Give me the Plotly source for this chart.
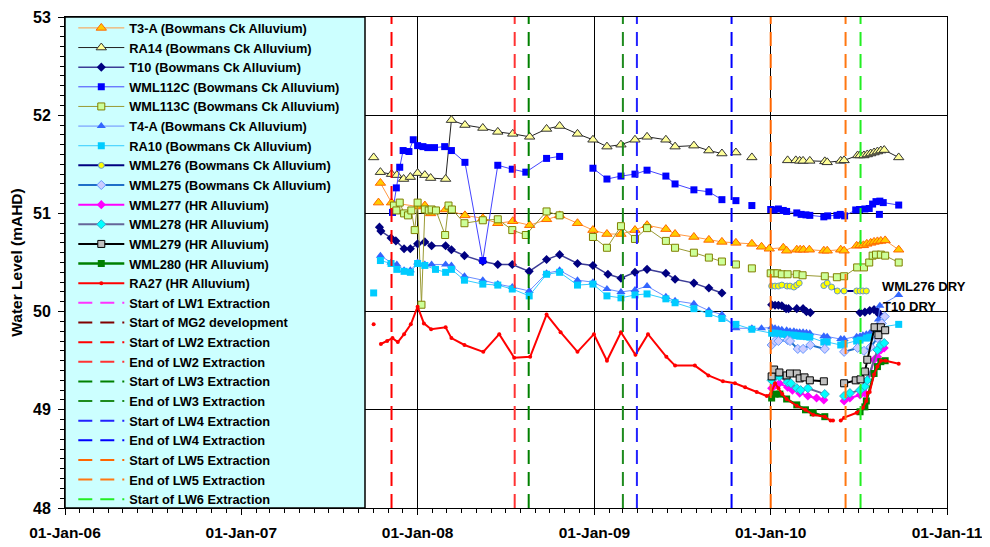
import plotly.graph_objects as go

# ------------------------------------------------------------------ data
t3a_dates = ["2007-10-12", None, "2007-10-16", "2007-11-08", "2008-01-01", "2008-01-16", "2008-01-28", "2008-02-28",
             "2008-04-08", "2008-05-15", "2008-06-15", "2008-07-16", "2008-08-20", "2008-09-24", "2008-10-21",
             "2008-11-27", "2008-12-29", "2009-01-27", "2009-02-25", "2009-03-26", "2009-04-20", "2009-05-29",
             "2009-06-17", "2009-07-26", "2009-08-26", "2009-09-22", "2009-10-21", "2009-11-23", "2009-12-13",
             "2009-12-29", "2010-01-27", "2010-02-03", "2010-02-24", "2010-03-03", "2010-03-10", "2010-03-22",
             "2010-04-21", "2010-04-28", "2010-05-26", "2010-06-02", "2010-06-28", "2010-07-05", "2010-07-12",
             "2010-07-19", "2010-07-27", "2010-08-03", "2010-08-10", "2010-08-17", "2010-08-26", "2010-09-23"]
t3a_vals = [51.11, None, 51.31, 51.11, 51.07, 51.08, 51.00, 51.04, 50.98, 50.95, 50.90, 50.92, 50.88, 50.94, 50.98,
            50.90, 50.83, 50.79, 50.79, 50.83, 50.88, 50.84, 50.79, 50.76, 50.73, 50.71, 50.70, 50.69, 50.66, 50.64,
            50.65, 50.62, 50.63, 50.63, 50.63, 50.63, 50.62, 50.62, 50.63, 50.62, 50.67, 50.675, 50.675, 50.69,
            50.70, 50.71, 50.715, 50.72, 50.725, 50.63]

ra14_dates = ["2007-10-02", None, "2007-10-16", "2007-11-08", "2007-11-19", "2007-12-03", "2007-12-17", "2008-01-01",
              "2008-01-16", "2008-01-28", "2008-02-28", "2008-03-11", "2008-04-08", "2008-05-15", "2008-06-15",
              "2008-07-16", "2008-08-20", "2008-09-24", "2008-10-21", "2008-11-27", "2008-12-29", "2009-01-27",
              "2009-02-25", "2009-03-26", "2009-04-20", "2009-05-29", "2009-06-17", "2009-07-26", "2009-08-26",
              "2009-09-22", None, "2009-10-21", None, "2009-11-23", None, "2010-02-05", "2010-02-22", "2010-03-02",
              "2010-03-09", "2010-03-23", "2010-04-23", "2010-04-28", "2010-05-26", "2010-06-02", "2010-06-30",
              "2010-07-05", "2010-07-13", "2010-07-20", "2010-07-27", "2010-08-03", "2010-08-10", "2010-08-17",
              "2010-08-24", "2010-09-23"]
ra14_vals = [51.57, None, 51.42, 51.40, 51.39, 51.35, 51.37, 51.41, 51.39, 51.36, 51.35, 51.95, 51.90, 51.87, 51.83,
             51.81, 51.78, 51.86, 51.89, 51.81, 51.75, 51.68, 51.70, 51.75, 51.78, 51.75, 51.68, 51.69, 51.64, 51.61,
             None, 51.62, None, 51.57, None, 51.54, 51.54, 51.535, 51.535, 51.535, 51.53, 51.52, 51.535, 51.54,
             51.59, 51.59, 51.59, 51.60, 51.61, 51.62, 51.63, 51.64, 51.645, 51.57]

t10_dates = ["2007-10-14", "2007-10-17", "2007-11-07", "2007-11-17", "2007-12-04", "2007-12-17", "2008-01-01",
             "2008-01-16", "2008-01-30", "2008-02-28", "2008-03-11", "2008-04-07", "2008-05-15", "2008-06-15",
             "2008-07-15", "2008-08-19", "2008-09-24", "2008-10-21", "2008-11-27", "2008-12-29", "2009-01-29",
             "2009-02-25", "2009-03-26", "2009-04-20", "2009-05-29", "2009-06-17", "2009-07-26", "2009-08-26",
             "2009-09-22", None, "2010-01-03", "2010-01-10", "2010-01-17", "2010-01-24", "2010-02-02", "2010-02-07",
             "2010-02-24", "2010-03-09", "2010-03-16", "2010-03-24", None, "2010-07-05", "2010-07-15", "2010-07-25",
             "2010-08-03", "2010-08-10", "2010-08-14"]
t10_vals = [50.86, 50.82, 50.75, 50.72, 50.64, 50.64, 50.69, 50.71, 50.67, 50.67, 50.63, 50.57, 50.51, 50.48, 50.48,
            50.41, 50.53, 50.58, 50.49, 50.47, 50.38, 50.34, 50.40, 50.43, 50.39, 50.33, 50.29, 50.24, 50.19, None,
            50.07, 50.065, 50.065, 50.06, 50.03, 50.03, 50.03, 50.03, 50.00, 49.99, None, 49.99, 49.995, 50.01,
            50.02, 50.00, 49.97]

wml112c_dates = ["2007-11-10", "2007-11-18", "2007-11-25", "2007-12-02", "2007-12-14", "2007-12-23", "2008-01-01",
                 "2008-01-12", "2008-01-22", "2008-02-05", "2008-02-26", "2008-03-11", "2008-04-08", "2008-05-15",
                 "2008-06-15", "2008-07-15", "2008-08-12", "2008-09-24", "2008-10-21", None, "2008-12-29",
                 "2009-01-27", "2009-02-25", "2009-03-26", "2009-04-20", "2009-05-29", "2009-06-17", "2009-07-26",
                 "2009-08-26", "2009-09-22", None, "2009-10-21", None, "2009-11-23", None, "2010-01-01", "2010-01-08",
                 "2010-01-17", "2010-01-27", "2010-02-03", "2010-02-24", "2010-03-05", "2010-03-15", "2010-03-23",
                 "2010-04-21", "2010-04-29", "2010-05-18", "2010-05-25", "2010-06-03", "2010-06-26", "2010-07-04",
                 "2010-07-15", "2010-07-24", "2010-07-31", "2010-08-07", "2010-08-15", "2010-08-22", "2010-09-23",
                 None, "2010-08-14"]
wml112c_vals = [51.01, 51.26, 51.47, 51.64, 51.63, 51.75, 51.69, 51.68, 51.67, 51.67, 51.68, 51.64, 51.52, 50.52,
                51.49, 51.45, 51.42, 51.56, 51.58, None, 51.46, 51.35, 51.38, 51.40, 51.44, 51.38, 51.30, 51.24,
                51.22, 51.14, None, 51.13, None, 51.08, None, 51.04, 51.035, 51.045, 51.03, 51.02, 51.005, 50.99,
                50.985, 50.98, 50.965, 50.975, 50.98, 50.99, 50.975, 51.035, 51.04, 51.045, 51.05, 51.095, 51.12,
                51.125, 51.11, 51.085, None, 50.99]

wml113c_dates = ["2007-11-13", "2007-11-18", "2007-11-25", "2007-12-04", "2007-12-12", "2007-12-19", "2007-12-26",
                 "2008-01-01", "2008-01-09", "2008-01-16", "2008-01-24", "2008-01-30", "2008-02-08", "2008-02-27",
                 "2008-03-05", "2008-03-12", "2008-04-07", "2008-05-15", "2008-06-15", "2008-07-15", "2008-08-12",
                 "2008-09-24", "2008-10-21", None, "2008-12-29", "2009-01-27", "2009-02-25", "2009-03-26",
                 "2009-04-20", "2009-05-29", "2009-06-17", "2009-07-26", "2009-08-26", "2009-09-22", None,
                 "2009-10-21", None, "2009-11-23", None, "2010-01-01", "2010-01-08", "2010-01-15", "2010-01-24",
                 "2010-02-05", "2010-02-24", "2010-03-08", "2010-04-23", "2010-05-18", "2010-06-02", "2010-06-29",
                 "2010-07-13", "2010-07-24", "2010-07-31", "2010-08-07", "2010-08-17", "2010-08-26", "2010-09-23"]
wml113c_vals = [51.08, 51.03, 51.11, 51.00, 50.98, 51.03, 50.83, 51.11, 50.07, 51.04, 51.03, 51.04, 51.03, 50.78,
                51.08, 51.04, 50.90, 50.93, 50.94, 50.83, 50.78, 51.02, 50.98, None, 50.76, 50.65, 50.87, 50.74,
                50.85, 50.72, 50.65, 50.60, 50.55, 50.51, None, 50.48, None, 50.44, None, 50.39, 50.39, 50.39,
                50.38, 50.38, 50.38, 50.37, 50.36, 50.35, 50.36, 50.45, 50.45, 50.50, 50.57, 50.58, 50.58, 50.57,
                50.50]

t4a_dates = ["2007-10-16", "2007-11-07", "2007-11-19", "2007-12-04", "2007-12-17", "2008-01-01", "2008-01-16",
             "2008-01-30", "2008-02-28", "2008-03-11", "2008-04-07", "2008-05-15", "2008-06-15", "2008-07-15",
             "2008-08-19", "2008-09-24", "2008-10-21", "2008-11-27", "2008-12-29", "2009-01-27", "2009-02-25",
             "2009-03-26", "2009-04-20", "2009-05-29", "2009-06-17", "2009-07-26", "2009-08-26", "2009-09-22",
             "2009-10-21", "2009-11-23", "2009-12-13", "2010-01-03", "2010-01-10", "2010-01-17", "2010-01-24",
             "2010-02-03", "2010-02-10", "2010-02-18", "2010-02-24", "2010-03-02", "2010-03-09", "2010-03-16",
             "2010-03-23", "2010-04-21", "2010-04-28", "2010-05-26", "2010-06-02", "2010-06-28", "2010-07-05",
             "2010-07-11", "2010-07-18", "2010-07-25", "2010-08-01", "2010-08-08", "2010-08-12", "2010-08-15",
             "2010-09-23"]
t4a_vals = [50.57, 50.50, 50.48, 50.42, 50.42, 50.50, 50.48, 50.48, 50.48, 50.47, 50.36, 50.32, 50.28, 50.25, 50.21,
            50.39, 50.42, 50.32, 50.30, 50.23, 50.20, 50.22, 50.26, 50.15, 50.11, 50.08, 50.01, 49.97, 49.83, 49.83,
            49.83, 49.84, 49.83, 49.82, 49.815, 49.81, 49.80, 49.80, 49.79, 49.79, 49.79, 49.785, 49.78, 49.75,
            49.745, 49.72, 49.72, 49.745, 49.75, 49.76, 49.77, 49.78, 49.81, 49.85, 49.92, 50.06, 50.17]

ra10_dates = ["2007-10-02", None, "2007-10-16", "2007-11-07", "2007-11-19", "2007-12-04", "2007-12-17", "2008-01-01",
              "2008-01-16", "2008-02-07", "2008-02-28", "2008-03-11", "2008-04-07", "2008-05-15", "2008-06-15",
              "2008-07-15", "2008-08-19", "2008-09-24", "2008-10-21", "2008-11-27", "2008-12-29", "2009-01-27",
              "2009-02-25", "2009-03-26", "2009-04-20", "2009-05-29", "2009-06-17", "2009-07-26", "2009-08-26",
              "2009-09-22", "2009-10-21", "2009-11-23", "2010-01-03", "2010-01-10", "2010-01-17", "2010-01-24",
              "2010-02-03", "2010-02-10", "2010-02-18", "2010-02-24", "2010-03-02", "2010-03-09", "2010-03-16",
              "2010-03-23", "2010-04-21", "2010-04-28", "2010-05-26", "2010-06-02", "2010-06-28", "2010-07-05",
              "2010-07-18", "2010-07-25", "2010-08-08", "2010-08-15", "2010-09-23"]
ra10_vals = [50.19, None, 50.52, 50.49, 50.43, 50.41, 50.40, 50.49, 50.47, 50.43, 50.40, 50.43, 50.32, 50.28, 50.27,
             50.23, 50.16, 50.38, 50.40, 50.27, 50.28, 50.16, 50.14, 50.17, 50.18, 50.13, 50.09, 50.03, 49.98, 49.93,
             49.87, 49.82, 49.78, 49.78, 49.775, 49.77, 49.765, 49.76, 49.76, 49.755, 49.75, 49.75, 49.745, 49.74,
             49.69, 49.69, 49.66, 49.67, 49.70, 49.71, 49.73, 49.74, 49.82, 49.84, 49.87]

wml276_dates = ["2010-01-03", "2010-01-10", "2010-01-17", "2010-01-24", "2010-02-04", "2010-02-10", "2010-02-18",
                "2010-02-24", "2010-03-01", None, "2010-04-21", "2010-04-28", "2010-05-07", "2010-05-19",
                "2010-06-02", "2010-06-28", "2010-07-05", "2010-07-11", "2010-07-18"]
wml276_vals = [50.26, 50.26, 50.26, 50.27, 50.26, 50.26, 50.25, 50.27, 50.29, None, 50.265, 50.29, 50.25, 50.21,
               50.21, 50.21, 50.21, 50.21, 50.21]

wml275_dates = ["2010-01-03", "2010-01-10", "2010-01-17", "2010-02-05", "2010-02-10", "2010-02-26", "2010-03-09",
                "2010-03-24", "2010-04-23", None, "2010-06-02", "2010-06-30", "2010-07-13", "2010-07-27",
                "2010-08-10", "2010-08-19", "2010-08-25"]
wml275_vals = [49.66, 49.70, 49.70, 49.71, 49.70, 49.62, 49.62, 49.66, 49.62, None, 49.59, 49.63, 49.60, 49.64,
               49.73, 49.88, 49.95]

wml277_dates = ["2010-01-03", "2010-01-10", "2010-01-19", "2010-02-05", "2010-02-15", "2010-03-02", "2010-03-19",
                "2010-04-06", "2010-04-21", None, "2010-06-02", "2010-06-14", "2010-07-05", "2010-07-15",
                "2010-08-03", "2010-08-10", "2010-08-17", "2010-08-24"]
wml277_vals = [49.22, 49.25, 49.27, 49.23, 49.20, 49.17, 49.14, 49.12, 49.10, None, 49.09, 49.12, 49.15, 49.17,
               49.51, 49.54, 49.61, 49.63]

wml278_dates = ["2010-01-03", "2010-01-10", "2010-01-19", "2010-02-05", "2010-02-12", "2010-02-24", "2010-03-04",
                "2010-03-19", "2010-04-23", None, "2010-06-02", "2010-06-14", "2010-07-05", "2010-07-15",
                "2010-07-20", "2010-08-10", "2010-08-17", "2010-08-24"]
wml278_vals = [49.30, 49.34, 49.34, 49.28, 49.27, 49.22, 49.20, 49.22, 49.16, None, 49.14, 49.17, 49.20, 49.24,
               49.30, 49.61, 49.66, 49.68]

wml279_dates = ["2010-01-03", "2010-01-08", "2010-01-19", "2010-02-03", "2010-02-10", "2010-02-24", "2010-03-02",
                "2010-03-12", "2010-03-23", "2010-04-21", None, "2010-06-02", "2010-06-26", "2010-07-06",
                "2010-07-15", "2010-07-20", "2010-08-04", "2010-08-12", "2010-08-17", "2010-08-26"]
wml279_vals = [49.34, 49.41, 49.38, 49.35, 49.37, 49.37, 49.32, 49.33, 49.30, 49.29, None, 49.27, 49.30, 49.31,
               49.39, 49.51, 49.84, 49.76, 49.84, 49.81]

wml280_dates = ["2010-01-03", "2010-01-10", "2010-01-20", "2010-02-03", "2010-02-24", "2010-03-14", "2010-03-30",
                "2010-04-23", None, "2010-07-05", "2010-07-15", "2010-07-18", "2010-08-03", "2010-08-10",
                "2010-08-17", "2010-08-26"]
wml280_vals = [49.12, 49.16, 49.16, 49.11, 49.05, 49.00, 48.97, 48.93, None, 48.98, 49.03, 49.09, 49.37, 49.44,
               49.49, 49.50]

ra27_dates = ["2007-10-02", None, "2007-10-17", "2007-10-30", "2007-11-10", "2007-11-21", "2007-12-04", "2007-12-18",
              "2008-01-01", "2008-01-14", "2008-01-29", "2008-02-28", "2008-03-11", "2008-04-07", "2008-05-16",
              "2008-06-18", "2008-07-19", "2008-08-21", "2008-09-24", "2008-10-23", "2008-11-27", "2008-12-31",
              "2009-01-27", "2009-02-25", "2009-03-27", "2009-04-22", "2009-05-30", "2009-06-17", "2009-07-28",
              "2009-08-25", "2009-09-24", "2009-10-19", "2009-11-09", "2009-12-03", "2009-12-24", "2010-01-01",
              "2010-01-10", "2010-01-17", "2010-01-25", "2010-02-03", "2010-02-24", "2010-03-14", "2010-03-30",
              "2010-04-23", "2010-05-05", "2010-05-10", None, "2010-05-26", "2010-06-02", "2010-06-28",
              "2010-07-11", "2010-07-18", "2010-07-21", "2010-07-25", "2010-08-03", "2010-08-10", "2010-08-17",
              "2010-08-27", "2010-09-23"]
ra27_vals = [49.87, None, 49.67, 49.70, 49.73, 49.69, 49.77, 49.87, 50.05, 49.88, 49.82, 49.84, 49.73, 49.66, 49.59,
             49.77, 49.53, 49.54, 49.97, 49.79, 49.59, 49.77, 49.50, 49.79, 49.56, 49.77, 49.54, 49.45, 49.45, 49.35,
             49.29, 49.27, 49.23, 49.18, 49.14, 49.16, 49.27, 49.22, 49.16, 49.11, 49.04, 49.00, 48.95, 48.93, 48.89,
             48.89, None, 48.89, 48.92, 48.97, 49.02, 49.09, 49.17, 49.18, 49.36, 49.44, 49.50, 49.50, 49.47]

event_names = ["Start of LW1 Extraction", "Start of MG2 development", "Start of LW2 Extraction",
               "End of LW2 Extraction", "Start of LW3 Extraction", "End of LW3 Extraction",
               "Start of LW4 Extraction", "End of LW4 Extraction", "Start of LW5 Extraction",
               "End of LW5 Extraction", "Start of LW6 Extraction"]
event_dates = ["2007-03-12", "2006-10-01", "2007-11-08", "2008-07-20", "2008-08-18", "2009-03-01",
               "2009-03-30", "2009-10-12", "2010-01-01", "2010-06-05", "2010-07-06"]

y_range = [48, 53]
x_range = ["2006-01-01", "2011-01-01"]

# ------------------------------------------------------------------ styles
series = [
    ("T3-A (Bowmans Ck Alluvium)", t3a_dates, t3a_vals,
     dict(color="#FF9944", width=1), dict(symbol="triangle-up", size=9, color="#FFCC00", line=dict(color="#FF6600", width=1))),
    ("RA14 (Bowmans Ck Alluvium)", ra14_dates, ra14_vals,
     dict(color="#222222", width=1), dict(symbol="triangle-up", size=9, color="#FFFF99", line=dict(color="#333333", width=1))),
    ("T10 (Bowmans Ck Alluvium)", t10_dates, t10_vals,
     dict(color="#3C3C96", width=1.5), dict(symbol="diamond", size=7, color="#000080", line=dict(color="#000080", width=0))),
    ("WML112C (Bowmans Ck Alluvium)", wml112c_dates, wml112c_vals,
     dict(color="#4444FF", width=1), dict(symbol="square", size=7, color="#0000FF", line=dict(color="#0000FF", width=0))),
    ("WML113C (Bowmans Ck Alluvium)", wml113c_dates, wml113c_vals,
     dict(color="#999933", width=1), dict(symbol="square", size=7, color="#CCFF99", line=dict(color="#808000", width=1))),
    ("T4-A (Bowmans Ck Alluvium)", t4a_dates, t4a_vals,
     dict(color="#6A8CFF", width=1), dict(symbol="triangle-up", size=8, color="#3366FF", line=dict(color="#3366FF", width=0))),
    ("RA10 (Bowmans Ck Alluvium)", ra10_dates, ra10_vals,
     dict(color="#33CCFF", width=1), dict(symbol="square", size=7, color="#00CCFF", line=dict(color="#00CCFF", width=0))),
    ("WML276 (Bowmans Ck Alluvium)", wml276_dates, wml276_vals,
     dict(color="#000080", width=2), dict(symbol="circle", size=6, color="#FFFF00", line=dict(color="#6699CC", width=1))),
    ("WML275 (Bowmans Ck Alluvium)", wml275_dates, wml275_vals,
     dict(color="#1F6FC8", width=2), dict(symbol="diamond", size=7, color="#CCCCFF", line=dict(color="#6699FF", width=1))),
    ("WML277 (HR Alluvium)", wml277_dates, wml277_vals,
     dict(color="#FF00FF", width=2), dict(symbol="diamond", size=7, color="#FF00FF", line=dict(color="#FF00FF", width=0))),
    ("WML278 (HR Alluvium)", wml278_dates, wml278_vals,
     dict(color="#666699", width=2), dict(symbol="diamond", size=7, color="#00FFFF", line=dict(color="#33AACC", width=1))),
    ("WML279 (HR Alluvium)", wml279_dates, wml279_vals,
     dict(color="#000000", width=2), dict(symbol="square", size=7, color="#C0C0C0", line=dict(color="#000000", width=1))),
    ("WML280 (HR Alluvium)", wml280_dates, wml280_vals,
     dict(color="#008000", width=2.5), dict(symbol="square", size=7, color="#008000", line=dict(color="#008000", width=0))),
    ("RA27 (HR Alluvium)", ra27_dates, ra27_vals,
     dict(color="#FF0000", width=2), dict(symbol="circle", size=4, color="#FF0000", line=dict(color="#FF0000", width=0))),
]

event_colors = ["#FF33FF", "#800000", "#FF0000", "#FF3333", "#008000", "#1E8B1E",
                "#2222FF", "#0000FF", "#FF6600", "#FF7711", "#22EE22"]

FONT = "Liberation Sans, Arial, sans-serif"

fig = go.Figure()
for name, xs, ys, ln, mk in series:
    fig.add_trace(go.Scatter(x=xs, y=ys, name=name, mode="lines+markers",
                             line=ln, marker=mk, connectgaps=False))

for name, d, c in zip(event_names, event_dates, event_colors):
    fig.add_trace(go.Scatter(x=[d, d], y=y_range, name=name, mode="lines",
                             line=dict(color=c, width=2, dash="14px,8px")))

# legend background panel (covers the left of the plot area)
fig.add_shape(type="rect", xref="paper", yref="paper", x0=0, x1=300 / 882, y0=0, y1=1,
              fillcolor="#CCFFFF", line=dict(color="black", width=1.5), layer="above")

fig.add_annotation(x="2010-08-15", y=50.26, text="WML276 DRY", showarrow=False, xanchor="left",
                   font=dict(family=FONT, size=13, color="black", weight="bold"))
fig.add_annotation(x="2010-08-17", y=50.05, text="T10 DRY", showarrow=False, xanchor="left",
                   font=dict(family=FONT, size=13, color="black", weight="bold"))

# The page body adds an 8px offset; the figure is sized/margined to compensate.
fig.update_layout(
    width=982, height=539,
    margin=dict(l=57, r=43, t=5, b=39),
    plot_bgcolor="white", paper_bgcolor="white",
    font=dict(family=FONT, color="black"),
    showlegend=True,
    legend=dict(x=0.0094, y=1.008, xanchor="left", yanchor="top", bgcolor="rgba(0,0,0,0)",
                borderwidth=0, itemwidth=46, tracegroupgap=0, maxheight=520,
                font=dict(family=FONT, size=12.8, color="black", weight="bold")),
    xaxis=dict(type="date", range=x_range, tickformat="%d-%b-%y", dtick="M12", tick0="2006-01-01",
               automargin=False, ticklabeloverflow="allow",
               ticks="outside", ticklen=6, tickcolor="black", tickwidth=1,
               showline=True, linecolor="black", linewidth=1, mirror=True,
               showgrid=True, gridcolor="black", gridwidth=1,
               tickfont=dict(family=FONT, size=15.5, color="black", weight="bold"),
               ticklabelstandoff=4,
               minor=dict(dtick="M1", ticks="outside", ticklen=4, tickcolor="black", showgrid=False)),
    yaxis=dict(range=y_range, dtick=1, tick0=48, automargin=False, ticklabeloverflow="allow",
               ticks="outside", ticklen=6, tickcolor="black", tickwidth=1,
               showline=True, linecolor="black", linewidth=1, mirror=True,
               showgrid=True, gridcolor="black", gridwidth=1, zeroline=False,
               tickfont=dict(family=FONT, size=16, color="black", weight="bold"),
               ticklabelstandoff=4,
               minor=dict(dtick=0.1, ticks="outside", ticklen=4, tickcolor="black", showgrid=False),
               title=dict(text="Water Level (mAHD)", standoff=6,
                          font=dict(family=FONT, size=15.5, color="black", weight="bold"))),
)

fig.write_html("out.html")
